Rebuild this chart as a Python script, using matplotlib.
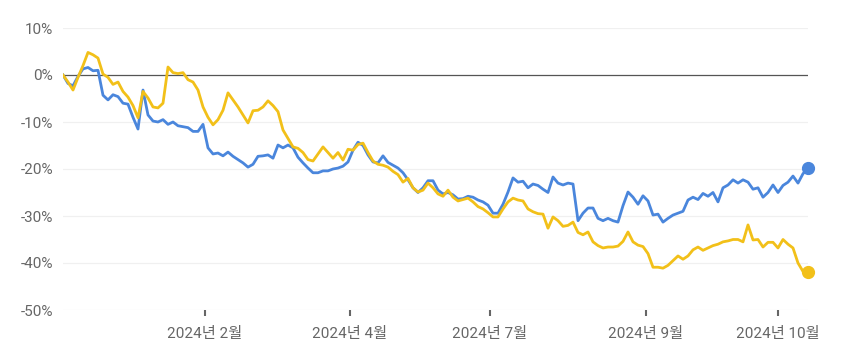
import matplotlib
matplotlib.use('Agg')
import matplotlib.pyplot as plt
import numpy as np

plt.rcParams['font.family'] = ['Roboto', 'Noto Sans CJK KR', 'DejaVu Sans']

# cumulative return (%), evenly spaced samples
blue_vals = [
    0, -1.8, -2.3, -0.3, 1.3, 1.6, 0.9, 1.0, -4.3, -5.3,
    -4.2, -4.6, -6.0, -6.2, -9.0, -11.5, -3.2, -8.5, -9.8, -10.0,
    -9.5, -10.5, -10.0, -10.8, -11.0, -11.2, -12.0, -12.0, -10.5, -15.5,
    -16.8, -16.6, -17.2, -16.4, -17.3, -18.0, -18.7, -19.6, -19.0, -17.3,
    -17.2, -17.0, -17.7, -14.9, -15.5, -14.9, -15.5, -17.5, -18.7, -19.8,
    -20.8, -20.8, -20.4, -20.4, -20.0, -19.8, -19.4, -18.5, -16.0, -14.3,
    -15.0, -17.0, -18.5, -18.7, -17.2, -18.6, -19.2, -19.8, -20.8, -22.3,
    -24.0, -25.0, -24.0, -22.5, -22.5, -24.5, -25.3, -25.0, -25.5, -26.4,
    -26.3, -25.8, -26.0, -26.6, -27.0, -27.7, -29.4, -29.4, -27.5, -24.9,
    -21.9, -22.8, -22.6, -24.0, -23.2, -23.5, -24.3, -25.0, -21.7, -23.0,
    -23.4, -23.0, -23.2, -31.0, -29.4, -28.3, -28.3, -30.5, -31.0, -30.5,
    -31.0, -31.3, -27.8, -24.9, -26.0, -27.5, -25.7, -26.8, -29.8, -29.6,
    -31.3, -30.5, -29.8, -29.4, -29.0, -26.6, -26.0, -26.5, -25.2, -25.8,
    -25.0, -27.0, -24.0, -23.4, -22.3, -23.0, -22.3, -22.8, -24.3, -24.0,
    -26.0, -25.0, -23.4, -25.0, -23.5, -22.8, -21.5, -23.0, -21.0, -19.8,
]
yellow_vals = [
    0, -1.5, -3.2, -0.5, 2.0, 4.8, 4.3, 3.6, 0.2, -0.5,
    -2.0, -1.5, -3.5, -4.7, -6.5, -9.1, -3.5, -4.9, -6.8, -7.0,
    -6.0, 1.7, 0.5, 0.3, 0.5, -1.0, -1.5, -3.2, -6.8, -9.0,
    -10.6, -9.5, -7.5, -3.8, -5.3, -6.8, -8.5, -10.2, -7.6, -7.5,
    -6.8, -5.5, -6.5, -7.8, -11.7, -13.5, -15.3, -15.6, -16.5, -18.0,
    -18.3, -16.8, -15.3, -16.5, -17.7, -16.5, -18.1, -15.8, -16.0, -14.8,
    -14.5, -16.5, -18.3, -19.0, -19.2, -19.6, -20.5, -21.2, -22.8, -22.0,
    -24.0, -24.9, -24.5, -23.0, -24.0, -25.3, -25.8, -24.5, -26.0, -26.8,
    -26.5, -26.2, -27.0, -28.0, -28.5, -29.3, -30.2, -30.2, -28.5, -27.0,
    -26.2, -26.6, -26.8, -28.5, -29.1, -29.5, -29.6, -32.6, -30.2, -31.0,
    -32.2, -32.0, -31.3, -33.5, -34.0, -33.4, -35.5, -36.3, -36.8, -36.6,
    -36.6, -36.4, -35.4, -33.4, -35.5, -36.2, -36.5, -38.0, -40.9, -40.9,
    -41.1, -40.5, -39.5, -38.5, -39.2, -38.5, -37.2, -36.6, -37.3, -36.8,
    -36.3, -36.0, -35.5, -35.3, -35.0, -35.0, -35.5, -31.9, -35.1, -35.0,
    -36.6, -35.6, -35.6, -36.8, -35.0, -36.0, -36.8, -40.0, -41.8, -42.0,
]
x_labels = ['2024년 2월', '2024년 4월', '2024년 7월', '2024년 9월', '2024년 10월']
x_label_pos = [28.4, 57.4, 85.4, 116.6, 143.0]
y_ticks = [10, 0, -10, -20, -30, -40, -50]

blue_c = '#4a86dc'
yellow_c = '#f2c019'

fig = plt.figure(figsize=(8.47, 3.57), dpi=100)
ax = plt.axes([63/847, 47/357, 745/847, 282/357])

x = np.arange(len(blue_vals))

for t in y_ticks:
    if t != 0:
        ax.axhline(t, color='#f0f0f0', linewidth=0.9, zorder=0)
ax.axhline(0, color='#555555', linewidth=0.9, zorder=1)

ax.plot(x, blue_vals, color=blue_c, linewidth=2.0, zorder=3, solid_joinstyle='round')
ax.plot(x, yellow_vals, color=yellow_c, linewidth=2.0, zorder=4, solid_joinstyle='round')
ax.plot(x[-1], blue_vals[-1], 'o', color=blue_c, markersize=8.5, clip_on=False, zorder=5)
ax.plot(x[-1], yellow_vals[-1], 'o', color=yellow_c, markersize=8.5, clip_on=False, zorder=5)

ax.set_xlim(0, len(blue_vals) - 1)
ax.set_ylim(-50, 10)

ax.set_yticks(y_ticks)
ax.set_yticklabels(['%d%%' % t for t in y_ticks])
ax.set_xticks(x_label_pos)
ax.set_xticklabels(x_labels)

ax.tick_params(axis='y', length=0, pad=7, labelsize=11, labelcolor='#666666')
ax.tick_params(axis='x', length=4, width=1.5, color='#666666', pad=8,
               labelsize=11, labelcolor='#666666')

for s in ax.spines.values():
    s.set_visible(False)

plt.savefig('out.png', dpi=100)
